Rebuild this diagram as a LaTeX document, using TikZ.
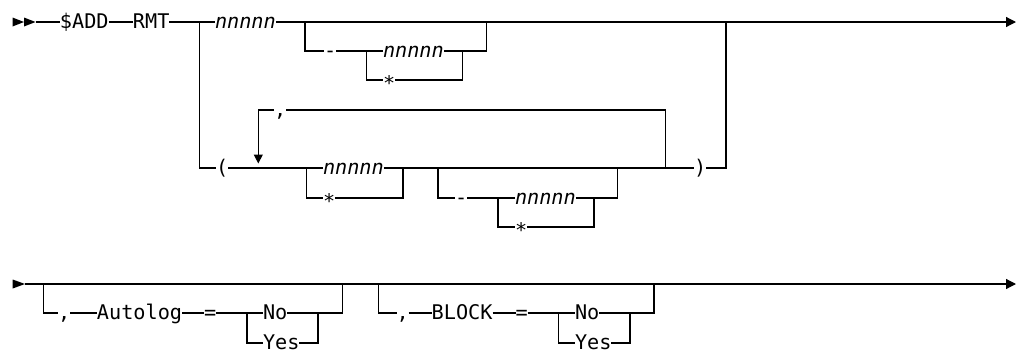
\documentclass[tikz,border=0pt]{standalone}
\usepackage{fontspec}
\setmainfont{DejaVu Sans Mono}
\usetikzlibrary{arrows.meta}
\tikzset{
  rr/.style={line width=0.6pt, line cap=butt},
  t/.style={inner sep=0pt, outer sep=0pt, anchor=west, text height=8pt, text depth=1.7pt, font=\fontsize{10.1}{12}\selectfont},
  tip/.style={-{Triangle[length=5pt,width=5pt]}},
  looptip/.style={-{Triangle[length=4.5pt,width=4.5pt]}},
}
\newcommand{\lowstar}{\raisebox{-2pt}{*}}
\begin{document}
\begin{tikzpicture}[x=0.5pt,y=-0.5pt]
\useasboundingbox (0,0) rectangle (1019,349);
% ---------- row 1 ----------
\fill (12.5,17.5) -- (24,22) -- (12.5,26.5) -- cycle;
\fill (24,17.5) -- (35.5,22) -- (24,26.5) -- cycle;
\coordinate (s1) at (35.5,22);
\node[t] (add) at (60,22) {\$ADD};
\node[t] (rmt) at (133,22) {RMT};
\node[t] (n1) at (215,22) {\textit{nnnnn}};
\coordinate (e1) at (1016,22);
\draw[rr] (s1) -- (add.west);
\draw[rr] (add.east) -- (rmt.west);
\draw[rr] (rmt.east) -- (n1.west);
\draw[rr,tip] (n1.east) -- (e1);
% optional "- nnnnn|*"
\coordinate (a1) at (305,22);
\node[t] (m1) at (324,51) {-};
\coordinate (a2) at (366.7,51);
\node[t] (n2) at (383,51) {\textit{nnnnn}};
\node[t] (st1) at (383,80) {\lowstar};
\coordinate (a3) at (462.7,51);
\coordinate (a4) at (486.7,22);
\draw[rr] (a1) |- (m1.west);
\draw[rr] (m1.east) -- (n2.west);
\draw[rr] (n2.east) -| (a4);
\draw[rr] (a2) |- (st1.west);
\draw[rr] (st1.east) -| (a3);
% ---------- row 2 (parenthesised list) ----------
\coordinate (b0) at (199.5,22);
\node[t] (lp) at (216,168) {(};
\node[t] (n3) at (323,168) {\textit{nnnnn}};
\node[t] (st2) at (323,198) {\lowstar};
\coordinate (b1) at (306.7,168);
\coordinate (b2) at (403,168);
\draw[rr] (b0) |- (lp.west);
\draw[rr] (lp.east) -- (n3.west);
\draw[rr] (b1) |- (st2.west);
\draw[rr] (st2.east) -| (b2);
\coordinate (b3) at (438,168);
\node[t] (m2) at (455,198) {-};
\node[t] (n4) at (515,198) {\textit{nnnnn}};
\node[t] (st3) at (515,227) {\lowstar};
\coordinate (c1) at (498,198);
\coordinate (c2) at (594,198);
\coordinate (c3) at (617.7,168);
\draw[rr] (b3) |- (m2.west);
\draw[rr] (m2.east) -- (n4.west);
\draw[rr] (n4.east) -| (c3);
\draw[rr] (c1) |- (st3.west);
\draw[rr] (st3.east) -| (c2);
\node[t] (rp) at (694,168) {)};
\coordinate (c4) at (726,22);
\draw[rr] (n3.east) -- (rp.west);
\draw[rr] (rp.east) -| (c4);
% repeat loop
\coordinate (l1) at (665.7,168);
\node[t] (cm) at (274,110) {,};
\coordinate (l2) at (258.3,163.5);
\draw[rr] (l1) |- (cm.east);
\draw[rr,looptip] (cm.west) -| (l2);
% ---------- row 3 ----------
\fill (12.7,279.5) -- (25,284) -- (12.7,288.5) -- cycle;
\coordinate (s2) at (25,284);
\coordinate (e2) at (1016,284);
\draw[rr,tip] (s2) -- (e2);
% Autolog
\coordinate (d0) at (43.3,284);
\node[t] (cm2) at (58,313) {,};
\node[t] (auto) at (97,313) {Autolog};
\node[t] (eq1) at (204,313) {=};
\coordinate (d1) at (247,313);
\node[t] (no1) at (263,313) {No};
\node[t] (yes1) at (263,343) {Yes};
\coordinate (d2) at (318,313);
\coordinate (d3) at (342.7,284);
\draw[rr] (d0) |- (cm2.west);
\draw[rr] (cm2.east) -- (auto.west);
\draw[rr] (auto.east) -- (eq1.west);
\draw[rr] (eq1.east) -- (no1.west);
\draw[rr] (no1.east) -| (d3);
\draw[rr] (d1) |- (yes1.west);
\draw[rr] (yes1.east) -| (d2);
% BLOCK
\coordinate (f0) at (378.3,284);
\node[t] (cm3) at (396.5,313) {,};
\node[t] (blk) at (431.7,313) {BLOCK};
\node[t] (eq2) at (515.5,313) {=};
\coordinate (f1) at (558.3,313);
\node[t] (no2) at (575,313) {No};
\node[t] (yes2) at (575,343) {Yes};
\coordinate (f2) at (630,313);
\coordinate (f3) at (654,284);
\draw[rr] (f0) |- (cm3.west);
\draw[rr] (cm3.east) -- (blk.west);
\draw[rr] (blk.east) -- (eq2.west);
\draw[rr] (eq2.east) -- (no2.west);
\draw[rr] (no2.east) -| (f3);
\draw[rr] (f1) |- (yes2.west);
\draw[rr] (yes2.east) -| (f2);
\end{tikzpicture}
\end{document}
